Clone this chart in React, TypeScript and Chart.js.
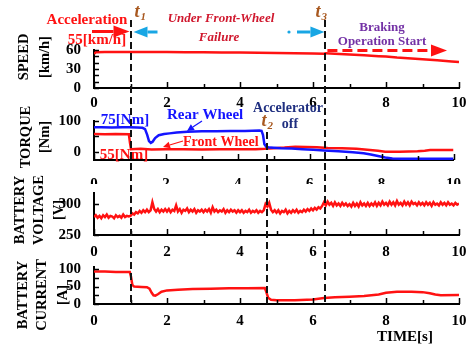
import { useEffect, useRef } from "react";
import { Chart, registerables } from "chart.js";

Chart.register(...registerables);

// ---------------- data ----------------
const xTickLabels = [0, 2, 4, 6, 8, 10];
const xTickMarks = [0, 1, 2, 3, 4, 5, 6, 7, 8, 9, 10];
const eventTimes = [1.0, 4.74, 6.34]; // t1, t2, t3

const speedTime = [0, 0.05, 0.3, 0.7, 1.0, 1.5, 2.0, 2.5, 3.0, 3.5, 4.0, 4.5, 5.0, 5.5, 6.0, 6.3, 6.35, 6.6, 7.0, 7.4, 7.8, 8.0, 8.3, 8.6, 9.0, 9.4, 9.8, 10.0];
const speedKmh = [54, 56.5, 57, 56.8, 57, 56.9, 56.7, 56.6, 56.3, 56.2, 56, 55.7, 55.3, 55, 54.5, 54, 55, 54.2, 53, 51.8, 50.3, 49.8, 48, 47, 45.5, 44, 42, 41];
const speedTickLabels = [0, 30, 60];
const speedTickMarks = [0, 10, 20, 30, 40, 50, 60];

const rearTime = [0, 0.2, 0.5, 0.8, 1.0, 1.2, 1.35, 1.42, 1.48, 1.53, 1.58, 1.63, 1.7, 1.8, 1.95, 2.1, 2.3, 2.6, 3.0, 3.4, 3.8, 4.2, 4.6, 4.66, 4.7, 4.74, 4.8, 4.9, 5.2, 5.5, 5.8, 6.1, 6.4, 6.8, 7.2, 7.5, 7.7, 7.9, 8.1, 8.3, 8.6, 9.0, 9.5, 10];
const rearTorqueNm = [80, 80, 79, 80, 80, 79, 78, 74, 55, 35, 29, 33, 45, 54, 58, 60, 63, 65, 67, 67, 68, 68, 69, 68, 55, 25, 16, 14, 12, 11, 9, 7, 5, 2, -1, -4, -8, -13, -18, -21, -22, -22, -22, -22];
const frontTime = [0, 0.3, 0.6, 0.97, 1.0, 1.03, 1.3, 1.6, 2.0, 2.5, 3.0, 3.5, 4.0, 4.5, 4.75, 5.0, 5.3, 5.6, 5.9, 6.2, 6.5, 6.9, 7.3, 7.6, 7.9, 8.1, 8.5, 9.0, 9.2, 9.35, 9.6, 10];
const frontTorqueNm = [58, 57, 58, 57, 30, 9, 10, 8, 9, 9, 8, 9, 9, 9, 10, 12, 14, 17, 16, 15, 13, 12, 10, 7, 4, 1, 1, 2, 4, 6, 6, 6];
const torqueTickLabels = [0, 100];
const torqueTickMarks = [0, 50, 100];

const voltageStep = 0.05;
const batteryVoltage = [
  279, 282, 278, 281, 277, 282, 279, 283, 278, 281, 280, 277, 282, 279, 281, 278, 283, 279, 281, 280,
  281, 285, 283, 287, 285, 289, 286, 290, 287, 291,
  287, 290, 303, 292, 288, 292, 287, 291, 288, 292,
  288, 292, 287, 291, 289, 298, 288, 292, 286, 291, 289, 293, 287, 291, 288, 292, 286, 290, 288, 291,
  287, 291, 288, 292, 286, 295, 288, 291, 287, 290, 288, 292, 286, 290, 287, 291, 288, 290, 286, 290,
  287, 290, 286, 289, 287, 291, 286, 289, 287, 290, 286, 289, 287, 290,
  300, 296, 302, 291, 287, 290,
  286, 290, 285, 289, 287, 291, 285, 289, 286, 290, 287, 291, 286, 289, 287, 291, 288, 292, 289, 293,
  290, 294, 291, 295, 293, 297,
  303, 298, 304, 299, 302, 297, 303, 298, 301, 297, 302, 298, 301, 297,
  300, 296, 302, 297, 301, 296, 303, 298, 301, 297, 302, 297, 301, 298, 303, 297, 302, 298, 304, 299,
  302, 298, 304, 299, 303, 298, 305, 299, 302, 298, 304, 299, 303, 298, 304, 300, 302, 298, 303, 299,
  302, 298, 303, 299, 302, 297, 303, 299, 301, 298, 303, 299, 302, 298, 303, 299, 301, 298, 302, 299,
  301,
];
const voltageTickLabels = [250, 300];
const voltageTickMarks = [250, 300];

const currentTime = [0, 0.3, 0.6, 0.98, 1.01, 1.05, 1.1, 1.3, 1.45, 1.52, 1.58, 1.63, 1.68, 1.75, 1.85, 2.0, 2.3, 2.7, 3.2, 3.7, 4.2, 4.68, 4.72, 4.77, 4.85, 5.0, 5.5, 6.0, 6.3, 6.6, 7.0, 7.4, 7.8, 8.0, 8.3, 8.7, 9.0, 9.2, 9.35, 9.5, 10];
const batteryCurrentA = [93, 93, 92, 92, 80, 55, 50, 49, 48, 44, 32, 25, 24, 28, 35, 39, 41, 43, 44, 45, 45, 46, 35, 18, 12, 11, 11, 13, 17, 19, 21, 23, 27, 32, 35, 35, 34, 31, 27, 25, 26];
const currentTickLabels = [0, 50, 100];
const currentTickMarks = [0, 25, 50, 75, 100];

// ---------------- styling ----------------
const FONT = '"Liberation Serif", "Times New Roman", Times, serif';
const W = 468;
const H = 347;
const PLOT_LEFT = 94;
const PLOT_RIGHT = 459;
const XH = 24;
const RED = "#ff1212";
const BLUE = "#1414ff";
const BROWN = "#a8581f";

const pairs = (xs: number[], ys: number[]) => xs.map((x, i) => ({ x, y: ys[i] }));

function lineDs(data: any[], color: string, width: number) {
  return {
    data,
    borderColor: color,
    backgroundColor: color,
    borderWidth: width,
    pointRadius: 0,
    tension: 0,
    fill: false,
  };
}

function text(ctx: any, s: string, x: number, y: number, font: string, color: string, align = "center") {
  ctx.save();
  ctx.font = font;
  ctx.fillStyle = color;
  ctx.textAlign = align;
  ctx.textBaseline = "middle";
  ctx.fillText(s, x, y);
  ctx.restore();
}

function arrow(ctx: any, x1: number, y1: number, x2: number, y2: number, color: string, lw: number, headLen: number, headHalf: number, dash?: number[]) {
  const ang = Math.atan2(y2 - y1, x2 - x1);
  const bx = x2 - headLen * Math.cos(ang);
  const by = y2 - headLen * Math.sin(ang);
  ctx.save();
  ctx.strokeStyle = color;
  ctx.fillStyle = color;
  ctx.lineWidth = lw;
  if (dash) ctx.setLineDash(dash);
  ctx.beginPath();
  ctx.moveTo(x1, y1);
  ctx.lineTo(bx, by);
  ctx.stroke();
  ctx.setLineDash([]);
  ctx.beginPath();
  ctx.moveTo(x2, y2);
  ctx.lineTo(bx + headHalf * Math.sin(ang), by - headHalf * Math.cos(ang));
  ctx.lineTo(bx - headHalf * Math.sin(ang), by + headHalf * Math.cos(ang));
  ctx.closePath();
  ctx.fill();
  ctx.restore();
}

function eventLabel(ctx: any, sub: string, x: number, y: number) {
  text(ctx, "t", x, y, `italic bold 18px ${FONT}`, BROWN, "left");
  text(ctx, sub, x + 6, y + 5, `italic bold 11px ${FONT}`, BROWN, "left");
}

function drawAxesDecor(chart: any, yMarks: number[], title: string[], titleX: number[], titleY: number) {
  const { ctx, chartArea: a, scales } = chart;
  const x = scales.x;
  const y = scales.y;
  ctx.save();
  ctx.strokeStyle = "#000";
  ctx.lineWidth = 1.5;
  ctx.beginPath();
  for (const t of xTickMarks) {
    const px = Math.round(x.getPixelForValue(t)) + 0.5;
    const len = t % 2 === 0 ? 6 : 4;
    ctx.moveTo(px, a.bottom);
    ctx.lineTo(px, a.bottom - len);
  }
  for (const v of yMarks) {
    const py = Math.round(y.getPixelForValue(v)) + 0.5;
    ctx.moveTo(a.left, py);
    ctx.lineTo(a.left + 5, py);
  }
  ctx.stroke();
  ctx.restore();
  ctx.save();
  ctx.font = `bold 14.5px ${FONT}`;
  ctx.fillStyle = "#000";
  ctx.textAlign = "center";
  ctx.textBaseline = "middle";
  title.forEach((s, i) => {
    ctx.save();
    ctx.translate(titleX[i], titleY);
    ctx.rotate(-Math.PI / 2);
    ctx.fillText(s, 0, 0);
    ctx.restore();
  });
  ctx.restore();
}

type Panel = {
  top: number;
  bottom: number;
  yMin: number;
  yMax: number;
  yLabels: number[];
  yMarks: number[];
  xLabelPad: number;
  datasets: any[];
  title: string[];
  titleX: number[];
  titleY: number;
  extra?: (chart: any) => void;
};

function buildConfig(p: Panel): any {
  const tickFont = { family: FONT, size: 15, weight: "bold" };
  const border = { display: true, color: "#000", width: 2 };
  return {
    type: "line",
    data: { datasets: p.datasets },
    options: {
      responsive: false,
      animation: false,
      devicePixelRatio: 1,
      events: [],
      layout: { padding: { left: 0, right: W - PLOT_RIGHT, top: p.top, bottom: H - p.bottom - XH } },
      plugins: { legend: { display: false }, tooltip: { enabled: false }, title: { display: false } },
      scales: {
        x: {
          type: "linear",
          min: 0,
          max: 10,
          afterBuildTicks: (s: any) => {
            s.ticks = xTickLabels.map((v) => ({ value: v }));
          },
          afterFit: (s: any) => {
            s.height = XH;
          },
          grid: { display: false },
          border,
          ticks: { color: "#000", font: tickFont, padding: p.xLabelPad, maxRotation: 0, autoSkip: false },
        },
        y: {
          type: "linear",
          min: p.yMin,
          max: p.yMax,
          afterBuildTicks: (s: any) => {
            s.ticks = p.yLabels.map((v) => ({ value: v }));
          },
          afterFit: (s: any) => {
            s.width = PLOT_LEFT;
          },
          grid: { display: false },
          border,
          ticks: { color: "#000", font: tickFont, padding: 5, autoSkip: false },
        },
      },
    },
    plugins: [
      {
        id: "decor",
        afterDraw: (chart: any) => {
          drawAxesDecor(chart, p.yMarks, p.title, p.titleX, p.titleY);
          if (p.extra) p.extra(chart);
        },
      },
    ],
  };
}

const panels: Panel[] = [
  {
    top: 50,
    bottom: 88,
    yMin: 0,
    yMax: 60,
    yLabels: speedTickLabels,
    yMarks: speedTickMarks,
    xLabelPad: -2,
    datasets: [lineDs(pairs(speedTime, speedKmh), RED, 2.5)],
    title: ["SPEED", "[km/h]"],
    titleX: [24, 45],
    titleY: 57,
    extra: (chart) => {
      const { ctx, scales } = chart;
      const x1 = scales.x.getPixelForValue(eventTimes[0]);
      const x3 = scales.x.getPixelForValue(eventTimes[2]);
      text(ctx, "Acceleration", 87, 20, `bold 15px ${FONT}`, RED);
      text(ctx, "55[km/h]", 97, 40, `bold 15px ${FONT}`, RED);
      arrow(ctx, 92, 31.5, x1 - 1, 31.5, RED, 3, 16, 6);
      eventLabel(ctx, "1", x1 + 4, 12);
      const cyan = "#18a6e4";
      arrow(ctx, x1 + 27, 32, x1 + 3, 32, cyan, 3, 14, 5.5);
      ctx.save();
      ctx.fillStyle = cyan;
      ctx.beginPath();
      ctx.arc(289, 32, 1.6, 0, Math.PI * 2);
      ctx.fill();
      ctx.restore();
      arrow(ctx, 297, 32, x3 - 1, 32, cyan, 3, 14, 5.5);
      text(ctx, "Under Front-Wheel", 221, 19, `italic bold 13px ${FONT}`, "#d0182e");
      text(ctx, "Failure", 219, 38, `italic bold 13px ${FONT}`, "#d0182e");
      eventLabel(ctx, "3", x3 - 10, 12);
      text(ctx, "Braking", 382, 28, `bold 13px ${FONT}`, "#7432a6");
      text(ctx, "Operation Start", 382, 42, `bold 13px ${FONT}`, "#7432a6");
      arrow(ctx, x3 + 2, 50.5, 447, 50.5, RED, 3, 16, 6, [10, 5]);
    },
  },
  {
    top: 121,
    bottom: 160,
    yMin: -26,
    yMax: 100,
    yLabels: torqueTickLabels,
    yMarks: torqueTickMarks,
    xLabelPad: 7,
    datasets: [lineDs(pairs(rearTime, rearTorqueNm), BLUE, 2.5), lineDs(pairs(frontTime, frontTorqueNm), RED, 2.5)],
    title: ["TORQUE", "[Nm]"],
    titleX: [26, 45],
    titleY: 137,
    extra: (chart) => {
      const { ctx, scales } = chart;
      const x2 = scales.x.getPixelForValue(eventTimes[1]);
      text(ctx, "75[Nm]", 125, 120, `bold 15px ${FONT}`, BLUE);
      text(ctx, "55[Nm]", 124, 155, `bold 15px ${FONT}`, RED);
      text(ctx, "Rear Wheel", 167, 115, `bold 15px ${FONT}`, BLUE, "left");
      text(ctx, "Front Wheel", 183, 142, `bold 14px ${FONT}`, RED, "left");
      arrow(ctx, 202, 121, 187, 131, BLUE, 1.2, 7, 3.5);
      arrow(ctx, 183, 141, 163, 147, RED, 1.2, 7, 3.5);
      text(ctx, "Accelerator", 288, 108, `bold 14px ${FONT}`, "#1f2f80");
      text(ctx, "off", 290, 124, `bold 14px ${FONT}`, "#1f2f80");
      eventLabel(ctx, "2", x2 - 3, 121);
    },
  },
  {
    top: 193,
    bottom: 235,
    yMin: 250,
    yMax: 318,
    yLabels: voltageTickLabels,
    yMarks: voltageTickMarks,
    xLabelPad: 0,
    datasets: [lineDs(pairs(batteryVoltage.map((_, i) => i * voltageStep), batteryVoltage), RED, 2.5)],
    title: ["BATTERY", "VOLTAGE", "[V]"],
    titleX: [20, 39, 59],
    titleY: 210,
  },
  {
    top: 267,
    bottom: 304,
    yMin: 0,
    yMax: 106,
    yLabels: currentTickLabels,
    yMarks: currentTickMarks,
    xLabelPad: 0,
    datasets: [lineDs(pairs(currentTime, batteryCurrentA), RED, 2.5)],
    title: ["BATTERY", "CURRENT", "[A]"],
    titleX: [23, 42, 63],
    titleY: 295,
    extra: (chart) => {
      const { ctx, scales, chartArea } = chart;
      text(ctx, "TIME[s]", 405, 337, `bold 15px ${FONT}`, "#000");
      const tops = [20, 132, 20];
      ctx.save();
      ctx.strokeStyle = "#111";
      ctx.lineWidth = 2;
      ctx.setLineDash([7, 4]);
      eventTimes.forEach((t, i) => {
        const px = Math.round(scales.x.getPixelForValue(t));
        ctx.beginPath();
        ctx.moveTo(px, tops[i]);
        ctx.lineTo(px, chartArea.bottom);
        ctx.stroke();
      });
      ctx.restore();
    },
  },
];

export default function App() {
  const refs = [useRef<HTMLCanvasElement>(null), useRef<HTMLCanvasElement>(null), useRef<HTMLCanvasElement>(null), useRef<HTMLCanvasElement>(null)];
  useEffect(() => {
    const charts = panels.map((p, i) => new Chart(refs[i].current as HTMLCanvasElement, buildConfig(p)));
    return () => charts.forEach((c) => c.destroy());
  }, []);
  return (
    <div style={{ position: "absolute", left: 0, top: 0, width: W, height: H, background: "#fff" }}>
      {refs.map((r, i) => (
        <canvas key={i} ref={r} width={W} height={H} style={{ position: "absolute", left: 0, top: 0, width: W, height: H }} />
      ))}
    </div>
  );
}
